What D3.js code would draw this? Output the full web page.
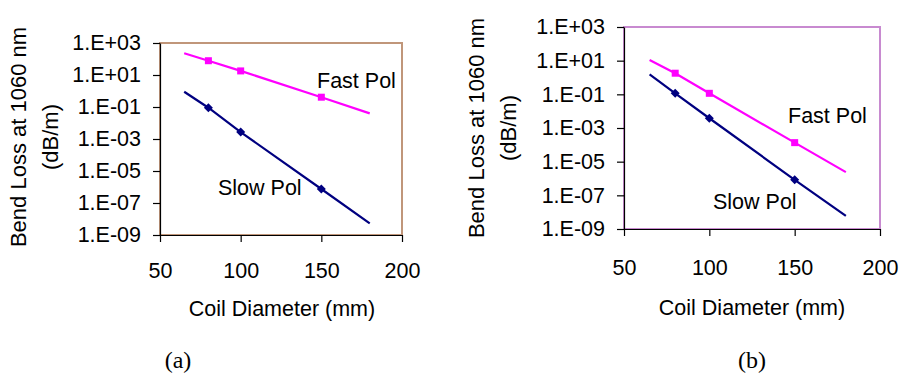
<!DOCTYPE html>
<html>
<head>
<meta charset="utf-8">
<script src="https://cdn.jsdelivr.net/npm/d3@7"></script>
<style>
  body { margin: 0; background: #fff; }
  text { font-family: "Liberation Sans", Arial, sans-serif; fill: #000; }
</style>
</head>
<body>
<div id="chart"></div>
<script>
// x values of the trend curves and of the measured points (mm)
const curveDiam = [65, 80, 100, 150, 180];
const pointDiam = [80, 100, 150];

// panel (a), bend loss in dB/m
const fastA = [230, 78, 18, 0.41, 0.04];
const slowA = [0.9, 0.09, 0.0027, 7.5e-7, 5.4e-9];
const fastPtsA = [78, 18, 0.41];
const slowPtsA = [0.09, 0.0027, 7.5e-7];

// panel (b)
const fastB = [11, 1.8, 0.115, 1.35e-4, 2.4e-6];
const slowB = [1.55, 0.115, 0.0038, 8.3e-7, 6e-9];
const fastPtsB = [1.8, 0.115, 1.35e-4];
const slowPtsB = [0.115, 0.0038, 8.3e-7];

const yTicks = [1e-9, 1e-7, 1e-5, 1e-3, 1e-1, 1e1, 1e3];
const xTicks = [50, 100, 150, 200];

const fmt = (d) => {
  const e = Math.round(Math.log10(d));
  return '1.E' + (e < 0 ? '-' : '+') + String(Math.abs(e)).padStart(2, '0');
};

const svg = d3.select('#chart').append('svg')
    .attr('width', 901)
    .attr('height', 375);

const panels = [
  {left: 160, top: 43, right: 402, bottom: 235, border: '#c0967a',
    fast: fastA, slow: slowA, fastPts: fastPtsA, slowPts: slowPtsA,
    fastLbl: [317, 80], slowLbl: [218, 187], xLblY: 35,
    yTitle: [18, 50, 137], xTitle: [282, 308], caption: ['(a)', 178, 360]},
  {left: 624, top: 27, right: 880, bottom: 229, border: '#c88ad0',
    fast: fastB, slow: slowB, fastPts: fastPtsB, slowPts: slowPtsB,
    fastLbl: [788, 115], slowLbl: [713, 201], xLblY: 38,
    yTitle: [476, 508, 128], xTitle: [752, 307], caption: ['(b)', 752, 360]},
];

panels.forEach((p) => {
  const x = d3.scaleLinear().domain([50, 200]).range([p.left, p.right]);
  const y = d3.scaleLog().domain([1e-9, 1e3]).range([p.bottom, p.top]);

  // plot frame
  svg.append('rect')
      .attr('x', p.left).attr('y', p.top)
      .attr('width', p.right - p.left).attr('height', p.bottom - p.top)
      .attr('fill', 'none')
      .attr('stroke', p.border)
      .attr('stroke-width', 2);

  const yAxis = svg.append('g')
      .attr('transform', `translate(${p.left},0)`)
      .call(d3.axisLeft(y).tickValues(yTicks).tickFormat(fmt)
          .tickSize(7).tickSizeOuter(0).tickPadding(12));
  const xAxis = svg.append('g')
      .attr('transform', `translate(0,${p.bottom})`)
      .call(d3.axisBottom(x).tickValues(xTicks).tickFormat(d3.format('d'))
          .tickSize(7).tickSizeOuter(0));
  [yAxis, xAxis].forEach((g) => {
    g.selectAll('path, line').attr('stroke', '#000').attr('stroke-width', 1.2);
    g.selectAll('text').style('font-size', '21.5px')
        .attr('font-family', '"Liberation Sans", Arial, sans-serif');
  });
  xAxis.selectAll('text').attr('y', p.xLblY).attr('dy', '0.35em');

  const line = d3.line()
      .x((d, i) => x(curveDiam[i]))
      .y((d) => y(d));

  svg.append('path').datum(p.fast)
      .attr('d', line).attr('fill', 'none')
      .attr('stroke', '#ff00ff').attr('stroke-width', 2.2);
  svg.append('path').datum(p.slow)
      .attr('d', line).attr('fill', 'none')
      .attr('stroke', '#000080').attr('stroke-width', 2.2);

  svg.selectAll(null).data(p.fastPts).enter().append('rect')
      .attr('x', (d, i) => x(pointDiam[i]) - 3.5)
      .attr('y', (d) => y(d) - 3.5)
      .attr('width', 7).attr('height', 7)
      .attr('fill', '#ff00ff');
  svg.selectAll(null).data(p.slowPts).enter().append('path')
      .attr('d', 'M0,-4.5L4.5,0L0,4.5L-4.5,0Z')
      .attr('transform', (d, i) => `translate(${x(pointDiam[i])},${y(d)})`)
      .attr('fill', '#000080');

  svg.append('text').attr('x', p.fastLbl[0]).attr('y', p.fastLbl[1])
      .attr('dy', '0.35em').style('font-size', '21.5px').text('Fast Pol');
  svg.append('text').attr('x', p.slowLbl[0]).attr('y', p.slowLbl[1])
      .attr('dy', '0.35em').style('font-size', '21.5px').text('Slow Pol');

  svg.append('text')
      .attr('x', p.xTitle[0]).attr('y', p.xTitle[1])
      .attr('dy', '0.35em').attr('text-anchor', 'middle')
      .style('font-size', '21.5px')
      .text('Coil Diameter (mm)');

  const yt = svg.append('text')
      .attr('transform', `translate(0,${p.yTitle[2]}) rotate(-90)`)
      .attr('text-anchor', 'middle')
      .style('font-size', '22px');
  yt.append('tspan').attr('x', 0).attr('y', p.yTitle[0]).attr('dy', '0.35em')
      .text('Bend Loss at 1060 nm');
  yt.append('tspan').attr('x', 0).attr('y', p.yTitle[1]).attr('dy', '0.35em')
      .text('(dB/m)');

  svg.append('text')
      .attr('x', p.caption[1]).attr('y', p.caption[2])
      .attr('dy', '0.35em').attr('text-anchor', 'middle')
      .style('font-family', '"Liberation Serif", "Times New Roman", serif')
      .style('font-size', '24px')
      .text(p.caption[0]);
});
</script>
</body>
</html>
